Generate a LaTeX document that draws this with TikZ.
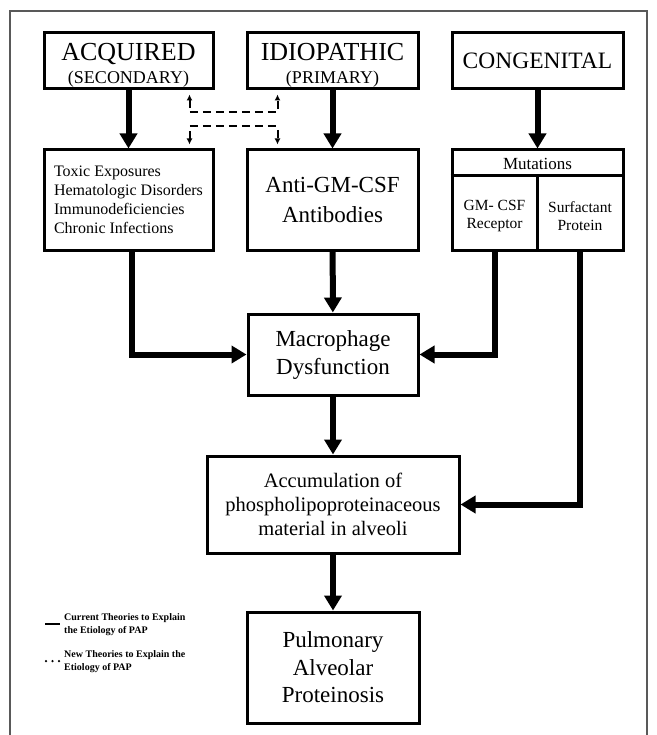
\documentclass[tikz,border=0pt]{standalone}
\usepackage{fontspec}
\setmainfont{Liberation Serif}
\usetikzlibrary{arrows.meta}

\newcommand{\fsz}[2]{\fontsize{#1}{#2}\selectfont}

\begin{document}
\begin{tikzpicture}[x=1pt, y=-1pt,
    box/.style={draw, line width=3pt, inner sep=0pt, align=center},
    flow/.style={line width=6pt, -{Triangle[length=15pt,width=17pt]}},
    newtheory/.style={line width=2pt, dash pattern=on 8pt off 5pt,
        {Latex[length=6pt,width=6pt]}-{Latex[length=6pt,width=6pt]},
        shorten <=4pt, shorten >=4pt},
    legend/.style={font=\bfseries\fsz{10}{13}, align=left, inner sep=0pt}]
    \useasboundingbox (0,0) rectangle (656,735);

    % Outer frame
    \draw[line width=1.3pt, black!65] (10,11) rectangle (647,760);

    % Top row: the three kinds of PAP
    \node[box, font=\fsz{26}{26}, minimum width=169pt, minimum height=56pt] (acq) at (128.5,61)
        {\rule{0pt}{25pt}ACQUIRED\\[-3pt]{\fsz{18}{20}(SECONDARY)}};
    \node[box, font=\fsz{26}{26}, minimum width=171pt, minimum height=56pt] (idio) at (332.5,61)
        {\rule{0pt}{25pt}IDIOPATHIC\\[-3pt]{\fsz{18}{20}(PRIMARY)}};
    \node[box, font=\fsz{23.5}{26}, minimum width=171pt, minimum height=56pt] (cong) at (537.5,61)
        {CONGENITAL};

    % Second row
    \node[box, align=left, font=\fsz{16}{19}, minimum width=169pt, minimum height=100pt] (causes) at (128.5,200)
        {Toxic Exposures\\Hematologic Disorders\\Immunodeficiencies\\Chronic Infections};
    \node[box, font=\fsz{23}{30}, minimum width=171pt, minimum height=100pt] (anti) at (332.5,200)
        {Anti-GM-CSF\\Antibodies};
    \node[box, minimum width=171pt, minimum height=100pt] (mut) at (537.5,200) {};
    \draw[line width=3pt] ([yshift=-27pt]mut.north west) -- ([yshift=-27pt]mut.north east);
    \draw[line width=3pt] ([yshift=-27pt]mut.north) -- (mut.south);
    \node[font=\fsz{17}{20}] (mhead) at (537.5,163.5) {Mutations};
    \node[align=center, font=\fsz{15.5}{18}] (rec) at (494.5,216) {GM- CSF\\Receptor};
    \node[align=center, font=\fsz{15.5}{18}] (surf) at (580,216) {Surfactant\\Protein};

    % Lower chain
    \node[box, font=\fsz{23}{28}, minimum width=170pt, minimum height=81pt] (macro) at (333,354.5)
        {Macrophage\\Dysfunction};
    \node[box, font=\fsz{20.5}{24}, minimum width=252pt, minimum height=97pt] (accum) at (333,504.5)
        {Accumulation of\\phospholipoproteinaceous\\material in alveoli};
    \node[box, font=\fsz{23}{27.5}, minimum width=172pt, minimum height=111pt] (pap) at (333,667.5)
        {Pulmonary\\Alveolar\\Proteinosis};

    % Current theories
    \draw[flow] (acq) -- (causes);
    \draw[flow] (idio) -- (anti);
    \draw[flow] (cong) -- (mut);
    \draw[flow] (anti) -- (macro);
    \draw[flow] ([xshift=3pt]causes.south) |- (macro.west);
    \draw[flow] (rec |- mut.south) |- (macro.east);
    \draw[flow] (surf |- mut.south) |- (accum.east);
    \draw[flow] (macro) -- (accum);
    \draw[flow] (accum) -- (pap);

    % New theories
    \draw[newtheory] ([xshift=-25pt]acq.south east) -- ++(0,22) -| ([xshift=32pt]idio.south west);
    \draw[newtheory] ([xshift=-25pt]causes.north east) -- ++(0,-22) -| ([xshift=32pt]anti.north west);

    % Legend
    \node[legend, anchor=north west] (cur) at (64,613) {Current Theories to Explain\\the Etiology of PAP};
    \node[legend, anchor=north west] (new) at (64,650) {New Theories to Explain the\\Etiology of PAP};
    \draw[line width=2.5pt] ([xshift=-19pt,yshift=-11pt]cur.north west) -- ++(15,0);
    \draw[line width=2.5pt, line cap=round, dash pattern=on 0pt off 6.5pt]
        ([xshift=-18pt,yshift=-11pt]new.north west) -- ++(14,0);
\end{tikzpicture}
\end{document}
